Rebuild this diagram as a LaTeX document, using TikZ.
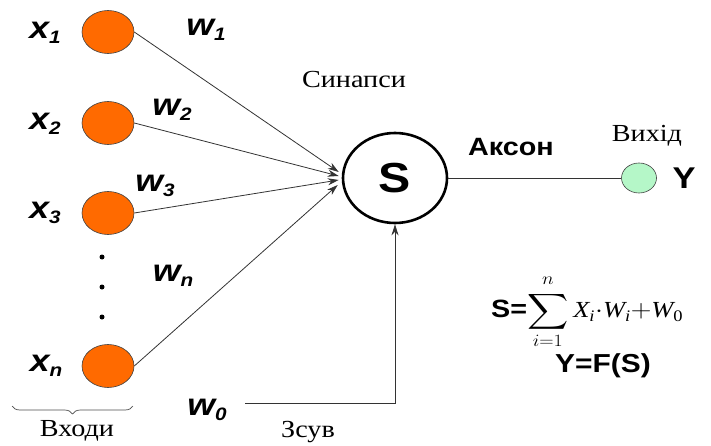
\documentclass[tikz,border=0pt]{standalone}
\usepackage{fontspec}
\usepackage{amsmath}
\usepackage{graphicx}
\setmainfont{Liberation Serif}
\setsansfont{Liberation Sans}
\usetikzlibrary{shapes.geometric,arrows.meta,decorations.pathreplacing,calc}
\definecolor{inorange}{HTML}{FF6A00}
\definecolor{outgreen}{HTML}{B5F7C8}
\newcommand{\stt}[1]{\scalebox{1.15}[1]{#1}}
\newcommand{\lab}[2]{\stt{{\fontsize{31}{31}\selectfont\sffamily\bfseries\itshape #1}{\fontsize{18}{18}\selectfont\sffamily\bfseries\itshape\raisebox{-5pt}{#2}}}}
\tikzset{
  inp/.style={ellipse,draw=black!75,line width=0.6pt,fill=inorange,minimum width=52pt,minimum height=43pt,inner sep=0pt},
  sumnode/.style={ellipse,draw=black,line width=2.6pt,minimum width=104pt,minimum height=90pt,inner sep=0pt},
  outnode/.style={ellipse,draw=black!75,line width=0.6pt,fill=outgreen,minimum width=35pt,minimum height=30pt,inner sep=0pt},
  conn/.style={draw=black!80,line width=0.8pt},
  arr/.style={conn,-{Stealth[length=11pt,width=7pt]}},
  serifl/.style={font=\fontsize{24.5}{24.5}\selectfont,inner sep=0pt},
  sansl/.style={font=\fontsize{25}{25}\selectfont\sffamily\bfseries,inner sep=0pt},
  plain/.style={inner sep=0pt}
}
\begin{document}
\begin{tikzpicture}[x=1pt,y=-1pt]
\useasboundingbox (0,0) rectangle (711,446);
% inputs
\node[inp] (i1) at (108,32) {};
\node[inp] (i2) at (108,123) {};
\node[inp] (i3) at (108,213) {};
\node[inp] (in) at (108,366) {};
\foreach \yy/\nm in {257/d1,287/d2,317/d3}
  \node[circle,fill=black,inner sep=0pt,minimum size=5pt] (\nm) at (102,\yy) {};
% labels
\node[plain] (lx1) at (45,33) {\lab{x}{1}};
\node[plain] (lx2) at (45,124) {\lab{x}{2}};
\node[plain] (lx3) at (45,213) {\lab{x}{3}};
\node[plain] (lxn) at (46,366) {\lab{x}{n}};
\node[plain] (lw1) at (206,30) {\lab{w}{1}};
\node[plain] (lw2) at (172,110) {\lab{w}{2}};
\node[plain] (lw3) at (155,186) {\lab{w}{3}};
\node[plain] (lwn) at (173,276) {\lab{w}{n}};
\node[plain] (lw0) at (207,410) {\lab{w}{0}};
% sum
\node[sumnode] (S) at (395,178) {\stt{\fontsize{42}{42}\selectfont\sffamily\bfseries S}};
\coordinate (t1) at ($(S.west)+(-3,-6)$);
\coordinate (t2) at ($(S.west)+(-3,-2)$);
\coordinate (t3) at ($(S.west)+(-3,2)$);
\coordinate (t4) at ($(S.west)+(-4,7)$);
\draw[arr] (i1.east) -- (t1);
\draw[arr] (i2.east) -- (t2);
\draw[arr] (i3.east) -- (t3);
\draw[arr] (in.east) -- (t4);
% bias
\coordinate (b0) at (245,403);
\draw[arr] (b0) -| (S.south);
% output
\node[outnode] (out) at (639,178) {};
\draw[conn] (S.east) -- (out.west);
\node[plain] (Y) at (684,178) {\stt{\fontsize{30}{30}\selectfont\sffamily\bfseries Y}};
% texts
\node[sansl] (ax) at (511,147) {\stt{Аксон}};
\node[serifl] (vyh) at (647,136) {\stt{Вихід}};
\node[serifl] (syn) at (354,80) {\stt{Синапси}};
\node[serifl] (zs) at (308,432) {\stt{Зсув}};
\node[serifl] (vh) at (77,431) {\stt{Входи}};
% brace
\coordinate (bl) at (12,406);
\coordinate (br) at (133,406);
\draw[draw=black!70,line width=0.7pt,decorate,decoration={brace,mirror,amplitude=8pt}] (bl) -- (br);
% formula
\node[plain,anchor=west] (f1) at (491,312) {\stt{{\fontsize{25}{25}\selectfont\sffamily\bfseries S=}{\fontsize{23}{23}\selectfont$\displaystyle\sum_{i=1}^{\raisebox{2pt}{$\scriptstyle n$}}\textit{X}_{\textit{i}}{\cdot}\textit{W}_{\textit{i}}{+}\textit{W}_{\textrm{0}}$}}};
\node[plain] (f2) at (603,366) {\stt{\fontsize{26}{26}\selectfont\sffamily\bfseries Y=F(S)}};
\end{tikzpicture}
\end{document}
